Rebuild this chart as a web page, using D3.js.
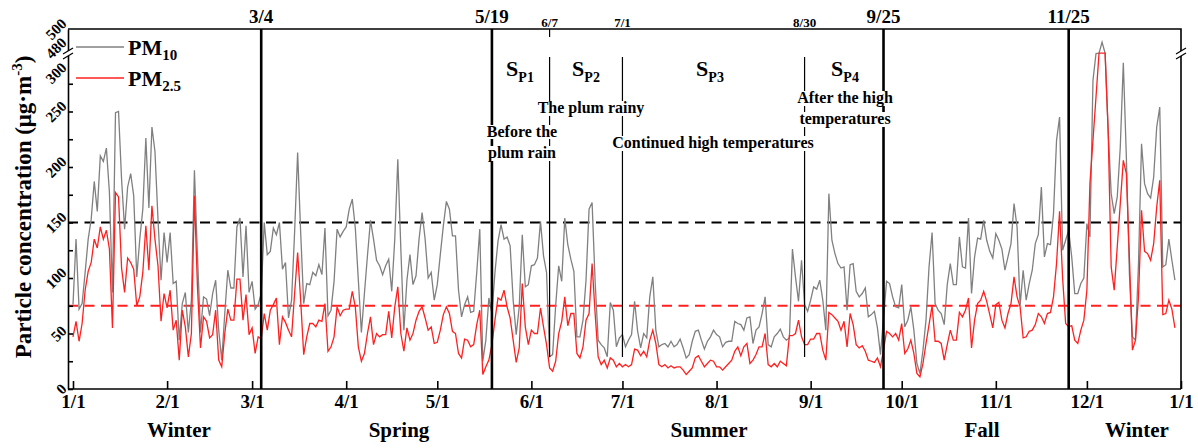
<!DOCTYPE html>
<html>
<head>
<meta charset="utf-8">
<script src="https://cdn.jsdelivr.net/npm/d3@7"></script>
<style>
  body { margin: 0; background: #fff; }
  svg text { font-family: "Liberation Serif", "Times New Roman", serif; font-weight: bold; fill: #000; }
</style>
</head>
<body>
<svg id="chart"></svg>
<script>
// daily PM10 concentration, 1/1 onwards (ug/m3)
const pm10 = [
  76,135,72,77,105,135,153,187,160,210, 205,217,177,87,249,250,189,144,182,194,
  174,101,135,162,226,163,236,214,153,98, 141,114,141,95,97,44,77,87,51,80,
  197,120,51,83,81,66,86,98,53,26, 68,107,91,91,146,154,101,147,87,97,
  72,76,86,150,121,124,145,139,150,108, 114,64,80,141,213,141,77,95,94,105,
  102,112,103,145,66,71,97,144,137,142, 146,162,171,145,98,51,86,120,152,135,
  116,111,103,111,117,88,135,207,126,53, 98,121,94,102,135,159,135,100,105,80,
  94,121,147,169,162,138,138,89,65,76, 83,69,70,105,144,25,44,82,68,105,
  133,148,135,137,129,80,49,74,139,92, 94,111,112,118,151,120,105,29,31,75,
  111,97,154,130,117,106,47,47,62,98, 162,168,97,44,40,37,29,78,71,38,
  46,49,38,44,49,79,52,37,50,46, 83,101,53,38,40,41,38,43,38,40,
  45,37,28,31,43,52,53,44,36,43, 47,53,49,47,38,42,43,43,61,59,
  58,53,64,65,41,53,56,68,83,40, 38,47,50,54,47,44,46,126,101,79,
  116,76,70,80,92,90,98,80,53,176, 134,122,113,109,110,71,112,113,88,83,
  86,91,65,67,70,55,31,64,97,95, 83,74,73,94,56,62,74,53,23,14,
  35,62,110,141,77,71,68,58,94,113, 94,94,137,110,109,154,86,119,136,135,
  152,134,124,118,140,134,126,107,119,131, 167,146,75,107,80,95,107,131,139,182,
  119,131,130,158,224,245,125,134,143,119, 86,86,95,100,149,137,278,390,400,488,
  400,233,176,158,173,218,294,209,104,47, 44,113,221,185,176,172,191,236,254,110,
  112,135,116,98
]
// daily PM2.5 concentration (ug/m3)
const pm25 = [
  47,61,43,59,89,106,114,135,127,146, 135,143,126,55,177,173,109,87,118,114,
  108,75,83,105,147,107,165,135,111,61, 86,73,89,53,62,26,71,56,29,50,
  174,92,37,65,61,46,49,71,26,20, 50,72,62,62,99,99,62,85,49,55,
  32,47,45,68,53,71,76,82,40,65, 60,53,47,86,123,80,31,47,59,59,
  56,62,61,77,34,38,47,74,66,71, 72,72,88,74,38,25,32,50,65,40,
  50,47,49,49,70,46,74,92,50,34, 55,44,50,62,70,74,64,53,56,41,
  42,53,67,74,68,52,50,32,28,45, 44,38,40,58,71,13,20,26,40,62,
  82,80,89,74,64,44,24,37,95,56, 40,53,50,50,73,56,40,19,16,25,
  50,61,83,57,68,68,32,28,38,62, 68,113,68,29,22,26,19,28,26,20,
  23,20,22,20,22,36,35,30,34,29, 44,53,41,22,20,22,19,21,19,20,
  20,17,13,16,19,28,30,25,20,23, 26,25,20,20,17,20,23,26,34,38,
  30,38,41,23,26,31,38,38,50,22, 20,23,20,25,23,21,48,48,50,62,
  47,40,40,45,45,50,50,35,26,69, 67,64,61,53,61,38,68,58,40,37,
  39,34,26,25,24,28,20,35,52,50, 47,50,44,59,32,36,44,32,14,11,
  23,41,58,75,43,43,41,26,40,53, 44,44,69,65,71,82,37,62,77,80,
  88,79,67,55,76,78,62,55,68,77, 101,83,74,46,47,52,53,58,68,65,
  59,68,69,83,113,160,100,59,56,57, 44,41,53,62,89,185,224,263,400,400,
  400,233,110,89,128,167,206,194,119,35, 44,83,161,124,122,116,131,164,188,67,
  68,80,72,55
]
const monthLabels = ['1/1','2/1','3/1','4/1','5/1','6/1','7/1','8/1','9/1','10/1','11/1','12/1','1/1']
const yLabels = [0, 50, 100, 150, 200, 250, 300, 480, 500]
const majorBounds = ['3/4', '5/19', '9/25', '11/25']   // season boundaries
const minorBounds = ['6/7', '7/1', '8/30']             // summer sub-periods
const limits = [{value: 150, color: '#000'}, {value: 75, color: '#ff2020'}]
const seasons = [
  {name: 'Winter', x: 179}, {name: 'Spring', x: 399}, {name: 'Summer', x: 709},
  {name: 'Fall', x: 982}, {name: 'Winter', x: 1137}
]
const periods = [{sub: 'P1', x: 520}, {sub: 'P2', x: 586}, {sub: 'P3', x: 710}, {sub: 'P4', x: 845}]
const notes = [
  {lines: ['The plum rainy'], x: 591, y: 113},
  {lines: ['Before the', 'plum rain'], x: 522, y: 137},
  {lines: ['Continued high temperatures'], x: 713, y: 148},
  {lines: ['After the high', 'temperatures'], x: 845, y: 103}
]

const W = 1198, H = 448
const m = {left: 68, right: 1181, top: 29, bottom: 389}

const svg = d3.select('#chart').attr('width', W).attr('height', H)

const year = 2017
const parseMD = s => { const [mo, d] = s.split('/').map(Number); return new Date(Date.UTC(year, mo - 1, d)) }
const dayDate = i => new Date(Date.UTC(year, 0, 1 + i))

const x = d3.scaleUtc()
  .domain([new Date(Date.UTC(year, 0, 1)), new Date(Date.UTC(year + 1, 0, 1))])
  .range([73, m.right])
// broken axis: 0-300 below the break, 480-500 above it
const y = d3.scaleLinear().domain([0, 300, 480, 500]).range([m.bottom, 56, 51, m.top])

// limit lines
svg.append('g').selectAll('line').data(limits).join('line')
  .attr('x1', m.left).attr('x2', m.right)
  .attr('y1', d => y(d.value)).attr('y2', d => y(d.value))
  .attr('stroke', d => d.color).attr('stroke-width', 2)
  .attr('stroke-dasharray', '10,6.5')

// series
const line = d3.line().x((d, i) => x(dayDate(i))).y(d => y(d))
svg.append('path').datum(pm10).attr('d', line)
  .attr('fill', 'none').attr('stroke', '#808080').attr('stroke-width', 1.3)
svg.append('path').datum(pm25).attr('d', line)
  .attr('fill', 'none').attr('stroke', '#ff2020').attr('stroke-width', 1.3)

// season boundaries (thick) and summer periods (thin)
svg.append('g').selectAll('line').data(majorBounds).join('line')
  .attr('x1', d => x(parseMD(d))).attr('x2', d => x(parseMD(d)))
  .attr('y1', m.top).attr('y2', m.bottom)
  .attr('stroke', '#000').attr('stroke-width', 2.6)
svg.append('g').selectAll('line').data(minorBounds).join('line')
  .attr('x1', d => x(parseMD(d))).attr('x2', d => x(parseMD(d)))
  .attr('y1', 57).attr('y2', 357)
  .attr('stroke', '#000').attr('stroke-width', 1.2)
svg.append('line')
  .attr('x1', x(parseMD('6/7'))).attr('x2', x(parseMD('6/7')))
  .attr('y1', m.top).attr('y2', m.top + 8)
  .attr('stroke', '#000').attr('stroke-width', 1.2)

// labels over the boundaries
svg.append('g').selectAll('text').data(majorBounds).join('text')
  .attr('x', d => x(parseMD(d))).attr('y', 23)
  .attr('text-anchor', 'middle').style('font-size', '19px').text(d => d)
svg.append('g').selectAll('text').data(minorBounds).join('text')
  .attr('x', d => x(parseMD(d))).attr('y', 27)
  .attr('text-anchor', 'middle').style('font-size', '13px').text(d => d)

// S_P labels
const sp = svg.append('g').selectAll('text').data(periods).join('text')
  .attr('x', d => d.x).attr('y', 76).attr('text-anchor', 'middle')
  .style('font-size', '22px')
sp.append('tspan').text('S')
sp.append('tspan').attr('dy', 6).style('font-size', '14px').text(d => d.sub)

// annotations, with white boxes that cut the lines behind them
const noteG = svg.append('g')
notes.forEach(n => {
  n.lines.forEach((t, k) => {
    const txt = noteG.append('text')
      .attr('x', n.x).attr('y', n.y + k * 21)
      .attr('text-anchor', 'middle').style('font-size', '16px').text(t)
    const b = txt.node().getBBox()
    noteG.insert('rect', 'text')
      .attr('x', b.x - 1).attr('y', b.y + 2).attr('width', b.width + 2).attr('height', b.height - 3)
      .attr('fill', '#fff')
  })
})

// axes
const xAxis = d3.axisBottom(x)
  .tickValues(d3.range(13).map(k => new Date(Date.UTC(year, k, 1))))
  .tickFormat((d, i) => monthLabels[i])
  .tickSizeInner(-8).tickSizeOuter(0).tickPadding(6)
const gx = svg.append('g').attr('transform', `translate(0,${m.bottom})`).call(xAxis)
gx.select('.domain').attr('d', `M${m.left},0H${m.right}`)
gx.selectAll('text').style('font-size', '19px').style('font-family', '"Liberation Serif", serif').style('font-weight', 'bold')

const yAxis = d3.axisLeft(y).tickValues(d3.range(0, 300, 25)).tickFormat('').tickSizeInner(-5).tickSizeOuter(0)
svg.append('g').attr('transform', `translate(${m.left},0)`).call(yAxis)
svg.selectAll('.domain, .tick line').attr('stroke', '#000').attr('stroke-width', 1.6)

// frame: top and right
svg.append('path').attr('d', `M${m.left},${m.top}H${m.right}V${m.bottom}`)
  .attr('fill', 'none').attr('stroke', '#000').attr('stroke-width', 1.6)

// y tick labels, rotated
const yl = svg.append('g').selectAll('text').data(yLabels).join('text')
  .style('font-size', '15px').attr('text-anchor', 'middle').text(d => d)
yl.attr('transform', function (d) {
  const w = this.getComputedTextLength()
  const cy = y(d) + (d === 300 ? 17 : d === 480 ? -3 : 0)
  const cx = 64 - w * 0.36
  return `translate(${cx},${cy}) rotate(-45)`
}).attr('dy', '0.35em')

// break marks
;[m.left, m.right].forEach(bx => {
  svg.append('rect').attr('x', bx - 3).attr('y', 51).attr('width', 6).attr('height', 5).attr('fill', '#fff')
  ;[51, 56].forEach(by => {
    svg.append('line').attr('x1', bx - 5).attr('y1', by + 3).attr('x2', bx + 5).attr('y2', by - 3)
      .attr('stroke', '#000').attr('stroke-width', 1.2)
  })
})

// legend
const legend = [{name: 'PM', sub: '10', color: '#808080', y: 47}, {name: 'PM', sub: '2.5', color: '#ff2020', y: 78}]
const lg = svg.append('g')
legend.forEach(l => {
  lg.append('line').attr('x1', 76).attr('x2', 124).attr('y1', l.y).attr('y2', l.y)
    .attr('stroke', l.color).attr('stroke-width', 1.3)
  const t = lg.append('text').attr('x', 128).attr('y', l.y + 8).style('font-size', '22px')
  t.append('tspan').text(l.name)
  t.append('tspan').attr('dy', 5).style('font-size', '15px').text(l.sub)
})

// axis title
const yt = svg.append('text').attr('transform', 'translate(31,207) rotate(-90)')
  .attr('text-anchor', 'middle').style('font-size', '23px')
yt.append('tspan').text('Particle concentration (μg·m')
yt.append('tspan').attr('dy', -9).style('font-size', '15px').text('-3')
yt.append('tspan').attr('dy', 9).text(')')

// seasons
svg.append('g').selectAll('text').data(seasons).join('text')
  .attr('x', d => d.x).attr('y', 437).attr('text-anchor', 'middle')
  .style('font-size', '21px').text(d => d.name)
</script>
</body>
</html>
